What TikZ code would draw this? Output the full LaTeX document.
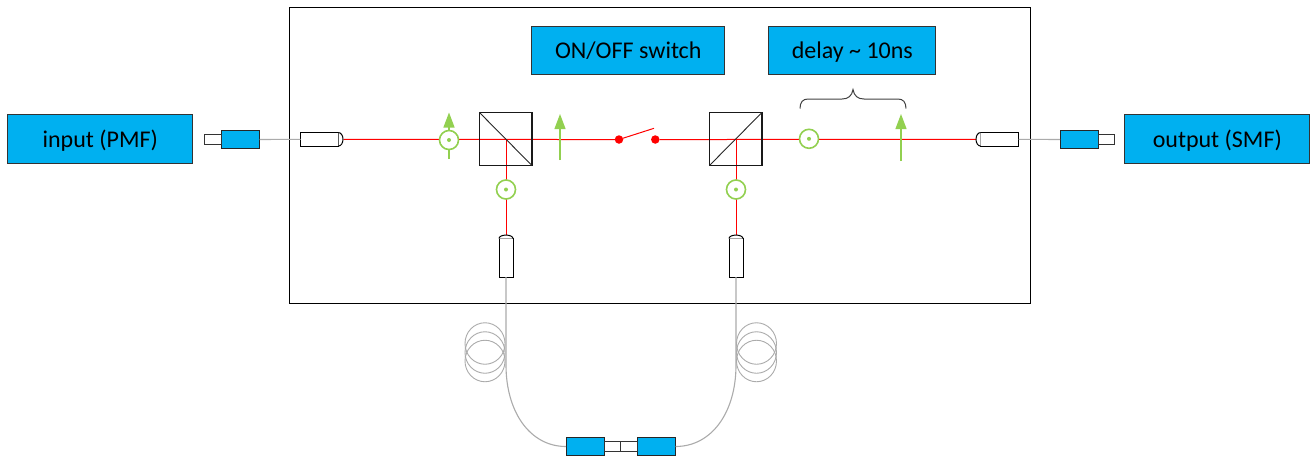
\documentclass[tikz,border=0pt]{standalone}
\usepackage{fontspec}
\setmainfont{Carlito}
\usetikzlibrary{arrows.meta,shapes.geometric}
\definecolor{bluefill}{HTML}{00B0F0}
\definecolor{pgreen}{HTML}{92D050}
\definecolor{fibregray}{HTML}{ABABAB}
\definecolor{beamred}{HTML}{FF0000}
\tikzset{
  x=1pt,y=-1pt,
  labelbox/.style={draw=black!80,line width=0.8pt,fill=bluefill,inner sep=0pt,text height=21pt,text depth=4pt,font=\fontsize{24}{28}\selectfont,text=black},
  conn/.style={draw=black!85,line width=0.9pt,fill=bluefill,minimum width=38pt,minimum height=18pt,inner sep=0pt,outer sep=0pt},
  ferrule/.style={draw=black!80,line width=0.9pt,fill=white,inner sep=0pt,outer sep=0pt},
  colli/.style={draw=black,line width=1pt,fill=white,inner sep=0pt,outer sep=0pt},
  cubebox/.style={minimum width=52.5pt,minimum height=53pt,inner sep=0pt,outer sep=0pt},
  beam/.style={draw=beamred,line width=1pt},
  fibre/.style={draw=fibregray,line width=1.1pt},
  pcirc/.style={circle,draw=pgreen,line width=1.6pt,fill=white,minimum size=19pt,inner sep=0pt},
  pdot/.style={circle,fill=pgreen,minimum size=4pt,inner sep=0pt},
  parrow/.style={draw=pgreen,line width=1.25pt,-{Triangle[width=11pt,length=15pt]}},
  sw/.style={circle,fill=beamred,minimum size=8.5pt,inner sep=0pt,outer sep=0pt},
  coil/.style={ellipse,draw=fibregray,line width=0.9pt,minimum width=40pt,minimum height=41.5pt,inner sep=0pt},
}
\begin{document}
\begin{tikzpicture}
\useasboundingbox (0,0) rectangle (1312,459);
% enclosure
\node[draw=black,line width=1pt,minimum width=741pt,minimum height=296pt,inner sep=0pt] (encl) at (659.5,155) {};
% labels
\node[labelbox,minimum width=185pt,minimum height=49pt] (input) at (100.3,138.5) {input (PMF)};
\node[labelbox,minimum width=185pt,minimum height=49pt] (output) at (1217.3,138.5) {output (SMF)};
\node[labelbox,minimum width=193pt,minimum height=48pt] (onoff) at (628.3,50) {ON/OFF switch};
\node[labelbox,minimum width=167pt,minimum height=48pt] (delay) at (852.3,50) {delay \char`~\ 10ns};
% coils
\foreach \n/\cx/\cy in {la/485/343.5,lb/485/352.5,lc/485/361,ra/756.5/343.5,rb/756.5/352.5,rc/756.5/361}
  \node[coil] (\n) at (\cx,\cy) {};
% connectors
\node[conn] (cin) at (240.5,139.5) {};
\node[ferrule,minimum width=16.5pt,minimum height=9.5pt] (fin) at (213,139.5) {};
\node[conn] (cout) at (1079,139.5) {};
\node[ferrule,minimum width=16.5pt,minimum height=9.5pt] (fout) at (1106.5,139.5) {};
\node[conn] (cb1) at (585,446.5) {};
\node[conn] (cb2) at (656.5,446.5) {};
\node[ferrule,minimum width=16.5pt,minimum height=9.5pt] (fb1) at (612.8,446.5) {};
\node[ferrule,minimum width=16.5pt,minimum height=9.5pt] (fb2) at (629,446.5) {};
% anchors for beams
\coordinate (c1tip) at (343.5,139.47);
\coordinate (c2tip) at (976.5,139.47);
\coordinate (c3tip) at (506,234.8);
\coordinate (c4tip) at (736,234.8);
\coordinate (bc1) at (506,139.5);
\coordinate (bc2) at (736,139.5);
\node[sw] (sa) at (619,139.5) {};
\node[sw] (sb) at (655.3,139.5) {};
\coordinate (sc) at (654,128.3);
% beams
\draw[beam] (c1tip) -- (sa);
\draw[beam] (sb) -- (c2tip);
\draw[beam] (bc1) -- (c3tip);
\draw[beam] (bc2) -- (c4tip);
\draw[beam] (sa) -- (sc);
% cubes
\node[cubebox] (pbs1) at (505.7,139) {};
\node[cubebox] (pbs2) at (735.7,139) {};
\draw[black!90,line width=1.2pt] (pbs1.north west) rectangle (pbs1.south east);
\draw[black!90,line width=1.2pt] (pbs2.north west) rectangle (pbs2.south east);
\draw[black!85,line width=0.9pt] (pbs1.north west) -- (pbs1.south east);
\draw[black!85,line width=0.9pt] (pbs2.south west) -- (pbs2.north east);
% collimators
\node[colli,minimum width=38pt,minimum height=13.5pt] (c1) at (319.5,139.3) {};
\node[colli,minimum width=38pt,minimum height=13.5pt] (c2) at (999.5,139.3) {};
\node[colli,minimum width=14pt,minimum height=38.5pt] (c3) at (506,257.8) {};
\node[colli,minimum width=14pt,minimum height=38.5pt] (c4) at (736,257.8) {};
\draw[colli] (c1.north east) arc[start angle=90,end angle=-90,x radius=4.5pt,y radius=6.75pt];
\draw[colli] (c2.north west) arc[start angle=90,end angle=270,x radius=4.5pt,y radius=6.75pt];
\draw[colli] (c3.north west) arc[start angle=180,end angle=0,x radius=7pt,y radius=3.5pt];
\draw[colli] (c4.north west) arc[start angle=180,end angle=0,x radius=7pt,y radius=3.5pt];
% polarisation arrows
\coordinate (a1s) at (449,159); \coordinate (a1e) at (449,112.5);
\coordinate (a2s) at (560,160); \coordinate (a2e) at (560,114);
\coordinate (a3s) at (901,161); \coordinate (a3e) at (901,114);
\draw[parrow] (a1s) -- (a1e);
\draw[parrow] (a2s) -- (a2e);
\draw[parrow] (a3s) -- (a3e);
% polarisation marks
\foreach \n/\cx/\cy in {p1/449/140,p2/506/189.5,p3/736/189.5,p4/809/138.8}{
  \node[pcirc] (\n) at (\cx,\cy) {};
  \node[pdot] (\n d) at (\cx,\cy) {};
}
% fibres
\draw[fibre] (cin.east) -- (c1.west);
\draw[fibre] (c2.east) -- (cout.west);
\draw[fibre] (c3.south) -- (506,365) .. controls (506,412) and (530,446.5) .. (cb1.west);
\draw[fibre] (c4.south) -- (736,365) .. controls (736,412) and (712,446.5) .. (cb2.east);
% brace
\draw[black!75,line width=1pt] (800,108.5) .. controls (800,102) and (803,99) .. (808,99) -- (842,99)
  .. controls (848,99) and (852,96) .. (853,89.5) .. controls (854,96) and (858,99) .. (864,99)
  -- (898,99) .. controls (903,99) and (906,102) .. (906,108.5);
\end{tikzpicture}
\end{document}
